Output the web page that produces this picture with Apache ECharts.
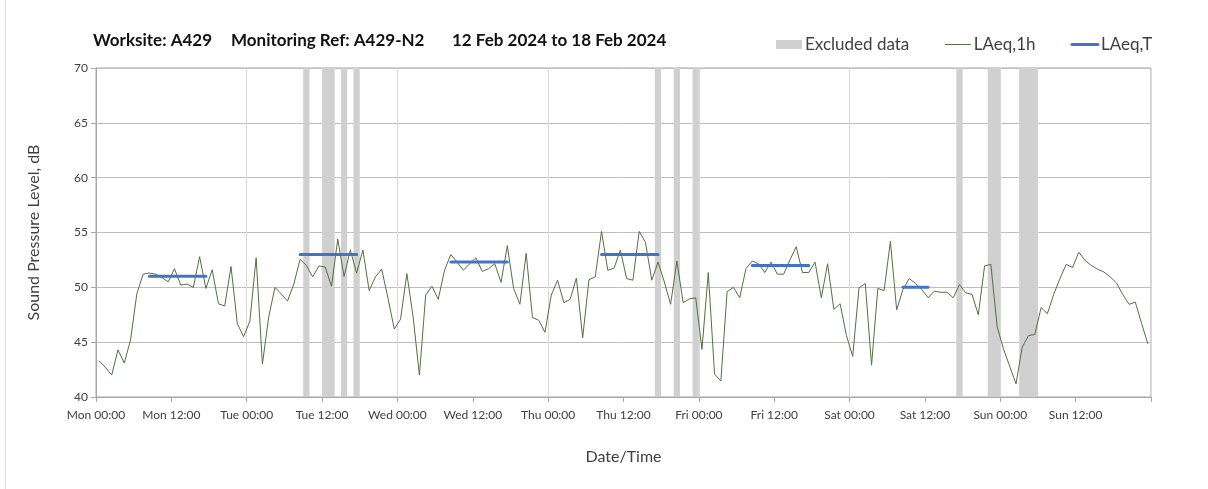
<!DOCTYPE html>
<html>
<head>
<meta charset="utf-8">
<script src="https://cdn.jsdelivr.net/npm/echarts@6/dist/echarts.min.js"></script>
<style>
html,body{margin:0;padding:0;background:#fff;}
#chart{width:1208px;height:489px;}
</style>
</head>
<body>
<div id="chart"></div>
<script>
// Hourly LAeq,1h values, Mon 00:00 .. Sun 23:00 (one per hour)
const laeq1hMon = [43.3,42.7,42.0,44.3,43.1,45.2,49.4,51.2,51.3,51.2,50.9,50.5,51.7,50.2,50.3,50.0,52.8,49.9,51.6,48.5,48.3,51.9,46.7,45.5];
const laeq1hTue = [46.9,52.7,43.0,47.3,50.0,49.4,48.75,50.3,52.55,52.0,50.95,51.95,51.85,50.1,54.4,51.0,53.4,51.3,53.4,49.7,50.95,51.65,49.0,46.2];
const laeq1hWed = [47.1,51.25,47.3,42.0,49.3,50.1,48.9,51.55,53.0,52.3,51.55,52.15,52.7,51.45,51.7,52.15,50.45,53.8,49.9,48.45,53.1,47.25,47.0,45.9];
const laeq1hThu = [49.3,50.65,48.6,48.9,50.85,45.4,50.7,50.95,55.1,51.55,51.75,53.4,50.8,50.65,55.1,54.1,50.65,52.3,50.5,48.45,52.4,48.6,48.95,49.05];
const laeq1hFri = [44.35,51.35,42.1,41.45,49.6,50.0,49.05,51.7,52.4,52.15,51.35,52.3,51.2,51.2,52.5,53.7,51.35,51.35,52.3,49.05,52.15,48.0,48.5,45.6];
const laeq1hSat = [43.7,49.95,50.35,42.9,49.9,49.7,54.2,47.95,49.8,50.8,50.35,49.8,49.05,49.65,49.55,49.55,49.05,50.25,49.5,49.35,47.5,51.95,52.1,46.4];
const laeq1hSun = [44.4,42.8,41.2,44.55,45.6,45.7,48.15,47.6,49.35,50.8,52.1,51.8,53.2,52.45,52.0,51.65,51.4,50.95,50.4,49.35,48.45,48.65,46.7,44.85];

// LAeq,T periods (hours from Mon 00:00)
const periodStart = [8, 32, 56, 80, 104, 128];
const periodEnd   = [18, 42, 66, 90, 114, 133];
const periodValue = [51.0, 53.0, 52.3, 53.0, 52.0, 50.0];

// Excluded data hours (from Mon 00:00)
const excludedStart = [33, 36, 39, 41, 89, 92, 95, 137, 142, 147];
const excludedEnd   = [34, 38, 40, 42, 90, 93, 96, 138, 144, 150];

// Tick labels every 12 hours
const xTickLabels = ['Mon 00:00','Mon 12:00','Tue 00:00','Tue 12:00','Wed 00:00','Wed 12:00','Thu 00:00','Thu 12:00','Fri 00:00','Fri 12:00','Sat 00:00','Sat 12:00','Sun 00:00','Sun 12:00',''];
const yTicks = [40, 45, 50, 55, 60, 65, 70];

const allHourly = [].concat(laeq1hMon, laeq1hTue, laeq1hWed, laeq1hThu, laeq1hFri, laeq1hSat, laeq1hSun);
const lineData = allHourly.map((v, i) => [i + 0.5, v]);

const periodData = [];
periodStart.forEach((s, k) => {
  periodData.push([s + 0.5, periodValue[k]]);
  periodData.push([periodEnd[k] - 0.5, periodValue[k]]);
  periodData.push([periodEnd[k], null]);
});

const bandData = excludedStart.map((s, k) => [{xAxis: s}, {xAxis: excludedEnd[k]}]);

const FONT = 'Lato';
const chart = echarts.init(document.getElementById('chart'), null, {renderer: 'canvas'});
chart.setOption({
  animation: false,
  backgroundColor: '#ffffff',
  textStyle: {fontFamily: FONT},
  grid: {left: 96, right: 57, top: 68, bottom: 92, show: true, borderColor: '#a6a6a6', borderWidth: 1},
  graphic: [
    {type: 'line', shape: {x1: 5.5, y1: 0, x2: 5.5, y2: 489}, style: {stroke: '#dcdcdc', lineWidth: 1}},
    {type: 'text', left: 93, top: 32, style: {text: 'Worksite: A429', font: 'bold 17px Lato', fill: '#111111'}},
    {type: 'text', left: 231, top: 32, style: {text: 'Monitoring Ref: A429-N2', font: 'bold 17px Lato', fill: '#111111'}},
    {type: 'text', left: 452, top: 32, style: {text: '12 Feb 2024 to 18 Feb 2024', font: 'bold 17px Lato', fill: '#111111'}}
  ],
  legend: {
    left: 776, top: 36, padding: 0,
    itemWidth: 26, itemHeight: 9, itemGap: 35,
    textStyle: {fontFamily: FONT, fontSize: 17, color: '#404040', padding: [0, 0, 0, -2]},
    data: [
      {name: 'Excluded data', icon: 'rect', itemStyle: {color: '#d0d0d0'}},
      {name: 'LAeq,1h', itemStyle: {opacity: 0}, lineStyle: {width: 1}},
      {name: 'LAeq,T', itemStyle: {opacity: 0}, lineStyle: {width: 3}}
    ]
  },
  xAxis: [{
    type: 'value', min: 0, max: 168, interval: 12,
    name: 'Date/Time', nameLocation: 'middle', nameGap: 52,
    nameTextStyle: {fontFamily: FONT, fontSize: 16, color: '#404040'},
    axisLine: {show: true, lineStyle: {color: '#a6a6a6'}},
    axisTick: {show: true, length: 5, lineStyle: {color: '#a6a6a6'}},
    axisLabel: {
      fontFamily: FONT, fontSize: 12, color: '#404040', margin: 12,
      formatter: v => xTickLabels[Math.round(v / 12)] || ''
    },
    splitLine: {show: false}
  }, {
    type: 'value', min: 0, max: 168, interval: 24, position: 'bottom',
    axisLine: {show: false}, axisTick: {show: false}, axisLabel: {show: false},
    splitLine: {show: true, lineStyle: {color: '#d9d9d9', width: 1}}
  }],
  yAxis: {
    type: 'value', min: yTicks[0], max: yTicks[yTicks.length - 1], interval: 5,
    name: 'Sound Pressure Level, dB', nameLocation: 'middle', nameGap: 54,
    nameTextStyle: {fontFamily: FONT, fontSize: 16, color: '#404040'},
    axisLine: {show: true, lineStyle: {color: '#a6a6a6'}},
    axisTick: {show: true, length: 5, lineStyle: {color: '#a6a6a6'}},
    axisLabel: {fontFamily: FONT, fontSize: 12, color: '#404040', margin: 8},
    splitLine: {show: true, lineStyle: {color: '#bfbfbf', width: 1}}
  },
  series: [
    {
      name: 'Excluded data', type: 'line', data: [], symbol: 'none',
      itemStyle: {color: '#d0d0d0'},
      markArea: {silent: true, itemStyle: {color: '#d0d0d0'}, data: bandData}
    },
    {
      name: 'LAeq,1h', type: 'line', data: lineData, symbol: 'none', showSymbol: false,
      itemStyle: {color: '#53713f'},
      lineStyle: {color: '#53713f', width: 1}, z: 3
    },
    {
      name: 'LAeq,T', type: 'line', data: periodData, symbol: 'none', showSymbol: false,
      connectNulls: false,
      itemStyle: {color: '#4472c4'},
      lineStyle: {color: '#4472c4', width: 3, cap: 'round'}, z: 4
    }
  ]
});
</script>
</body>
</html>
